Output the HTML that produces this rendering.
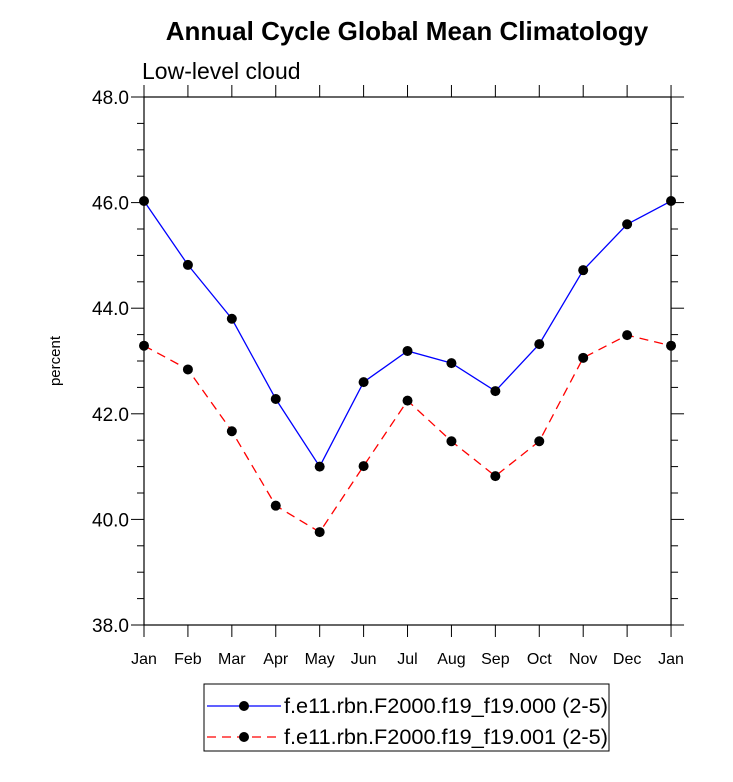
<!DOCTYPE html>
<html><head><meta charset="utf-8"><style>
body{margin:0;background:#fff;font-family:"Liberation Sans",sans-serif}
svg text{font-family:"Liberation Sans",sans-serif}
</style></head><body>
<svg id="c" width="733" height="777" xmlns="http://www.w3.org/2000/svg">
<text x="407" y="40" text-anchor="middle" font-size="26" font-weight="bold">Annual Cycle Global Mean Climatology</text>
<text x="142" y="79" font-size="23">Low-level cloud</text>
<text x="60" y="361" font-size="15" text-anchor="middle" transform="rotate(-90 60 361)">percent</text>
<g id="ax"></g>
<g id="series"></g>
<rect x="204" y="684" width="405" height="67" fill="none" stroke="#000" stroke-width="1"/>
<g>
<line x1="207" y1="706" x2="281" y2="706" stroke="#00f" stroke-width="1.3"/>
<circle cx="244" cy="706" r="5" fill="#000"/>
<text x="284" y="713" font-size="21.7">f.e11.rbn.F2000.f19_f19.000 (2-5)</text></g>
<g>
<line x1="207" y1="737" x2="281" y2="737" stroke="#f00" stroke-width="1.3" stroke-dasharray="9,6"/>
<circle cx="244" cy="737" r="5" fill="#000"/>
<text x="284" y="744" font-size="21.7">f.e11.rbn.F2000.f19_f19.001 (2-5)</text></g>
</svg>
<script>
const months=["Jan","Feb","Mar","Apr","May","Jun","Jul","Aug","Sep","Oct","Nov","Dec","Jan"];
const series000=[46.03,44.82,43.80,42.28,41.00,42.60,43.19,42.96,42.43,43.32,44.72,45.59,46.03];
const series001=[43.29,42.84,41.67,40.26,39.76,41.01,42.25,41.48,40.82,41.48,43.06,43.49,43.29];
const yTicks=["38.0","40.0","42.0","44.0","46.0","48.0"];
const NS="http://www.w3.org/2000/svg";
const L=144,T=97,B=625,step=43.92,ymin=38,ymax=48;
const R=L+12*step;
const X=i=>L+i*step, Y=v=>B-(v-ymin)/(ymax-ymin)*(B-T);
function el(t,a,p){const e=document.createElementNS(NS,t);for(const k in a)e.setAttribute(k,a[k]);p.appendChild(e);return e;}
const ax=document.getElementById('ax');
const fr=el('rect',{x:L,y:T,width:R-L,height:B-T,fill:'none',stroke:'#000','stroke-width':1.2},ax);


for(let v=ymin;v<=ymax+0.001;v+=0.5){
  const y=Y(v),maj=Math.abs(v%2)<0.01,len=maj?13:7;
  el('line',{x1:L-len,y1:y,x2:L,y2:y,stroke:'#000'},ax);
  el('line',{x1:R,y1:y,x2:R+len,y2:y,stroke:'#000'},ax);
}
yTicks.forEach(t=>{const e=el('text',{x:L-15,y:Y(parseFloat(t))+7,'text-anchor':'end','font-size':19},ax);e.textContent=t;

});
months.forEach((m,i)=>{const x=X(i);
  el('line',{x1:x,y1:B,x2:x,y2:B+12,stroke:'#000'},ax);
  el('line',{x1:x,y1:T-12,x2:x,y2:T,stroke:'#000'},ax);
  const e=el('text',{x:x,y:B+39,'text-anchor':'middle','font-size':16},ax);e.textContent=m;
  
  });
const sg=document.getElementById('series');
function draw(vals,color,dash,name){
  const g=el('g',{},sg);
  
  
  const pts=vals.map((v,i)=>X(i)+','+Y(v)).join(' ');
  const a={points:pts,fill:'none',stroke:color,'stroke-width':1.3};if(dash)a['stroke-dasharray']=dash;
  el('polyline',a,g);
  vals.forEach((v,i)=>{const c=el('circle',{cx:X(i),cy:Y(v),r:5,fill:'#000'},g);
    
    });
}
draw(series001,'#f00','9,6','series-001');
draw(series000,'#00f',null,'series-000');
</script>
</body></html>
